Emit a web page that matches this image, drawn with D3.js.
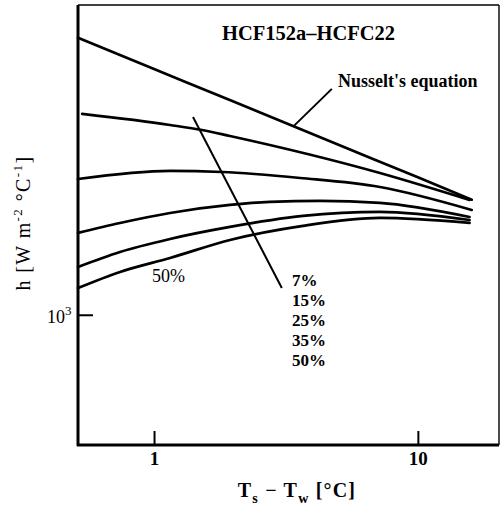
<!DOCTYPE html>
<html>
<head>
<meta charset="utf-8">
<script src="https://cdn.jsdelivr.net/npm/d3@7"></script>
<style>
  html, body { margin: 0; padding: 0; background: #fff; }
  svg { display: block; }
  text { font-family: "Liberation Serif", "Times New Roman", serif; fill: #000; }
</style>
</head>
<body>
<svg id="chart" width="501" height="510"></svg>
<script>
// ---- data ----
const xTicks = [1, 10];
const xTickLabels = ["1", "10"];
const yTicks = [1000];

const nusseltX = [0.515, 1, 2, 5, 10, 16];
const nusseltH = [4370, 3700, 3110, 2470, 2080, 1845];

const series7X  = [0.534, 1.15, 1.52, 1.94, 7.18, 15.7];
const series7H  = [2912, 2746, 2674, 2590, 2127, 1843];

const series15X = [0.515, 1.15, 1.81, 3.58, 7.18, 16];
const series15H = [2060, 2150, 2138, 2071, 1974, 1747];

const series25X = [0.515, 0.743, 1.15, 1.94, 2.75, 4.25, 7.18, 15.7];
const series25H = [1546, 1630, 1719, 1794, 1823, 1833, 1814, 1683];

const series35X = [0.515, 0.743, 1.15, 1.94, 3.67, 7.18, 15.7];
const series35H = [1290, 1397, 1497, 1596, 1692, 1729, 1656];

const series50X = [0.515, 0.743, 1.15, 1.94, 3.67, 7.18, 15.7];
const series50H = [1153, 1256, 1353, 1489, 1605, 1674, 1630];

const pctLabels = ["7%", "15%", "25%", "35%", "50%"];

// annotation anchors in data units
const pointerLine = [[1.405, 2865], [3.05, 1153]];
const nusseltLeader = [[3.36, 2718], [4.72, 3327]];
const pctLabelAnchor = [3.33, 1166];
const innerLabelAnchor = [0.983, 1191];
const nusseltLabelAnchor = [4.98, 3362];
const titleAnchor = [1.81, 4318];

// ---- chart ----
const svg = d3.select("#chart");
const x = d3.scaleLog().domain([0.515, 20.3]).range([78, 499]);
const y = d3.scaleLog().domain([500, 5200]).range([445, 5]);

const line = d3.line().x(d => x(d[0])).y(d => y(d[1])).curve(d3.curveMonotoneX);
const zip = (a, b) => a.map((v, i) => [v, b[i]]);

// frame: top & right thin
svg.append("line").attr("x1", x.range()[0]).attr("x2", x.range()[1]).attr("y1", y.range()[1]).attr("y2", y.range()[1])
  .attr("stroke", "#000").attr("stroke-width", 1.6);
svg.append("line").attr("x1", x.range()[1]).attr("x2", x.range()[1]).attr("y1", y.range()[1]).attr("y2", y.range()[0])
  .attr("stroke", "#000").attr("stroke-width", 1.4);

// axes
const xAxis = d3.axisBottom(x).tickValues(xTicks).tickFormat((d, i) => xTickLabels[i]).tickSize(-14).tickPadding(7);
const gx = svg.append("g").attr("transform", `translate(0,${y.range()[0]})`).call(xAxis);
gx.select(".domain").attr("stroke-width", 3).attr("d", `M${x.range()[0]-1},0H${x.range()[1]}`);
gx.selectAll(".tick line").attr("stroke-width", 2);
gx.selectAll(".tick text").style("font-family", "Liberation Serif").style("font-size", "19px").style("font-weight", "bold");

const yAxis = d3.axisLeft(y).tickValues(yTicks).tickSize(-15).tickFormat(() => "");
const gy = svg.append("g").attr("transform", `translate(${x.range()[0]},0)`).call(yAxis);
gy.select(".domain").attr("stroke-width", 3).attr("d", `M0,${y.range()[0]+1}V${y.range()[1]}`);
gy.selectAll(".tick line").attr("stroke-width", 2);
gy.selectAll(".tick").each(function() {
  const t = d3.select(this).append("text").attr("x", -31).attr("y", 8).attr("text-anchor", "start")
    .style("font-size", "18px");
  t.append("tspan").text("10");
  t.append("tspan").attr("dy", -8).style("font-size", "13px").text("3");
});

// curves
const allSeries = [
  zip(nusseltX, nusseltH), zip(series7X, series7H), zip(series15X, series15H),
  zip(series25X, series25H), zip(series35X, series35H), zip(series50X, series50H)
];
svg.append("g").selectAll("path").data(allSeries).join("path")
  .attr("d", line).attr("fill", "none").attr("stroke", "#000").attr("stroke-width", 2.7)
  .attr("stroke-linecap", "round");

// annotation lines
svg.append("path").attr("d", d3.line().x(d => x(d[0])).y(d => y(d[1]))(pointerLine))
  .attr("stroke", "#000").attr("stroke-width", 2).attr("fill", "none");
svg.append("path").attr("d", d3.line().x(d => x(d[0])).y(d => y(d[1]))(nusseltLeader))
  .attr("stroke", "#000").attr("stroke-width", 2).attr("fill", "none");

// labels
svg.append("text").attr("x", x(titleAnchor[0])).attr("y", y(titleAnchor[1]))
  .style("font-size", "20.5px").style("font-weight", "bold").text("HCF152a–HCFC22");
svg.append("text").attr("x", x(nusseltLabelAnchor[0])).attr("y", y(nusseltLabelAnchor[1]))
  .style("font-size", "18px").style("font-weight", "bold").text("Nusselt's equation");
svg.append("g").selectAll("text").data(pctLabels).join("text")
  .attr("x", x(pctLabelAnchor[0])).attr("y", (d, i) => y(pctLabelAnchor[1]) + i * 20)
  .style("font-size", "17px").style("font-weight", "bold").text(d => d);
svg.append("text").attr("x", x(innerLabelAnchor[0])).attr("y", y(innerLabelAnchor[1]))
  .style("font-size", "18px").text("50%");

// axis titles
const xt = svg.append("text").attr("x", 297).attr("y", 497).attr("text-anchor", "middle")
  .style("font-size", "20px").style("font-weight", "bold").style("letter-spacing", "1.2px");
xt.append("tspan").text("T");
xt.append("tspan").attr("dy", 6).style("font-size", "14px").text("s");
xt.append("tspan").attr("dy", -6).text(" − T");
xt.append("tspan").attr("dy", 6).style("font-size", "14px").text("w");
xt.append("tspan").attr("dy", -6).text(" [°C]");

const yt = svg.append("text").attr("transform", "translate(30,223) rotate(-90)").attr("text-anchor", "middle")
  .style("font-size", "20px").style("letter-spacing", "1.4px");
yt.append("tspan").text("h [W m");
yt.append("tspan").attr("dy", -8).style("font-size", "13px").text("-2");
yt.append("tspan").attr("dy", 8).text(" °C");
yt.append("tspan").attr("dy", -8).style("font-size", "13px").text("-1");
yt.append("tspan").attr("dy", 8).text("]");
</script>
</body>
</html>
